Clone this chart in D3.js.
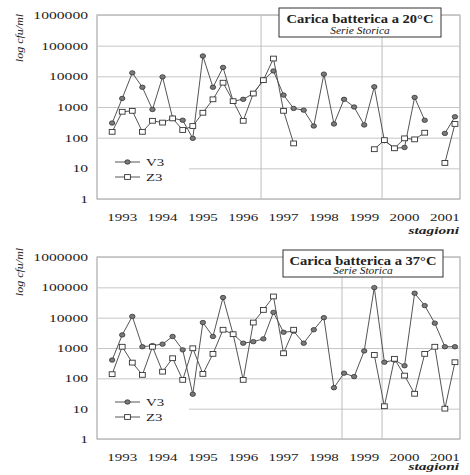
<!DOCTYPE html>
<html>
<head>
<meta charset="utf-8">
<script src="https://cdn.jsdelivr.net/npm/d3@7"></script>
<style>
  body { margin: 0; background: #fff; }
  svg { display: block; }
</style>
</head>
<body>
<svg id="chart" width="470" height="475"></svg>
<script>
// Seasonal samples 1993–2001 (four seasons per year); slot 0 is an empty lead-in season.
const seasonCount = 36;
const years = ["1993", "1994", "1995", "1996", "1997", "1998", "1999", "2000", "2001"];
const yearSlots = [2, 6, 10, 14, 18, 22, 26, 30, 34];
const yTicks = [1, 10, 100, 1000, 10000, 100000, 1000000];
const seriesNames = ["V3", "Z3"];

// Bacterial count at 20°C (cfu/ml)
const v3At20 = [null, 300, 1900, 13000, 4400, 830, 9600, 430, 370, 95, 46000, 4400, 19500, 1550, 1780, 2750, 7500,
  15000, 2450, 900, 790, 240, 11800, 280, 1780, 1000, 260, 4550, 80, 45, 48, 2050, 370, null, 138, 480];
const z3At20 = [null, 155, 700, 750, 155, 355, 310, 425, 178, 240, 650, 1780, 6200, 1550, 355, 2750, 7500,
  38000, 750, 65, null, null, null, null, null, null, null, 42, 83, 45, 95, 88, 145, null, 15, 280];

// Bacterial count at 37°C (cfu/ml)
const v3At37 = [null, 400, 2700, 11000, 1100, 1200, 1340, 2400, 870, 30, 6900, 2400, 46000, 2850, 1440, 1620, 2000,
  15000, 3300, 3600, 1440, 4000, 10000, 49, 148, 114, 800, 98000, 340, 400, 260, 64000, 25000, 6600, 1100, 1100];
const z3At37 = [null, 137, 1100, 330, 130, 1100, 166, 460, 89, 980, 140, 640, 4000, 2850, 89, 6900, 18000,
  50000, 670, 4000, null, null, null, null, null, null, null, 590, 12, 440, 123, 31, 640, 1100, 10, 340];

const titles = ["Carica batterica a 20°C", "Carica batterica a 37°C"];
const subtitle = "Serie Storica";
const yLabel = "log cfu/ml";
const xLabel = "stagioni";

// Season-slot positions of the vertical guide lines in each panel
const guidesTop = [16.27, 28.27];
const guidesBottom = [24.3, 28.27];

const SERIF = "'Liberation Serif', 'DejaVu Serif', serif";
const left = 97, right = 460;

const panels = [
  { v3: v3At20, z3: z3At20, title: titles[0], top: 15, bottom: 199, guides: guidesTop,
    box: { x0: 279, x1: 441, y0: 8, y1: 37 }, yLabelY: 38, xLabelDy: 35 },
  { v3: v3At37, z3: z3At37, title: titles[1], top: 257, bottom: 439, guides: guidesBottom,
    box: { x0: 283, x1: 443, y0: 250, y1: 277 }, yLabelY: 272, xLabelDy: 31 }
];

const svg = d3.select("#chart");
const x = d3.scaleBand().domain(d3.range(seasonCount)).range([left, right]);
const cx = i => x(i) + x.bandwidth() / 2;
const xSlot = d3.scaleLinear().domain([0, seasonCount]).range([left, right]);

// Text with horizontal stretch along its own direction
function stretchedText(g, str, px, py, opt) {
  return g.append("text")
    .attr("transform", `translate(${px},${py}) rotate(${opt.rotate || 0}) scale(${opt.sx || 1},1)`)
    .attr("text-anchor", opt.anchor || "middle")
    .attr("font-family", SERIF)
    .attr("font-size", opt.size || 11)
    .attr("font-weight", opt.weight || "normal")
    .attr("font-style", opt.style || "normal")
    .attr("fill", opt.fill || "#222")
    .text(str);
}

function drawV3Marker(sel) {
  sel.append("ellipse").attr("rx", 2.7).attr("ry", 2.2)
    .attr("fill", "#7a7a7a").attr("stroke", "#333").attr("stroke-width", 0.8);
}
function drawZ3Marker(sel) {
  sel.append("rect").attr("x", -2.9).attr("y", -2.4).attr("width", 5.8).attr("height", 4.8)
    .attr("fill", "#fff").attr("stroke", "#333").attr("stroke-width", 0.9);
}

panels.forEach(p => {
  const g = svg.append("g");
  const y = d3.scaleLog().domain([1, 1e6]).range([p.bottom, p.top]);

  // plot area
  g.append("rect")
    .attr("x", left).attr("y", p.top)
    .attr("width", right - left).attr("height", p.bottom - p.top)
    .attr("fill", "#fff").attr("stroke", "#9a9a9a").attr("stroke-width", 1);

  // horizontal gridlines at each decade
  const grid = g.append("g").attr("transform", `translate(${left},0)`)
    .call(d3.axisLeft(y).tickValues(yTicks).tickSize(-(right - left)).tickFormat(""));
  grid.select(".domain").remove();
  grid.selectAll("line").attr("stroke", "#c6c6c6").attr("stroke-width", 1);

  // vertical guide lines
  g.selectAll("line.guide").data(p.guides).join("line")
    .attr("class", "guide")
    .attr("x1", d => xSlot(d)).attr("x2", d => xSlot(d))
    .attr("y1", p.top).attr("y2", p.bottom)
    .attr("stroke", "#bdbdbd").attr("stroke-width", 1);

  // y tick labels
  const ya = g.append("g").attr("transform", `translate(${left},0)`)
    .call(d3.axisLeft(y).tickValues(yTicks).tickSize(0).tickPadding(0).tickFormat(d3.format("d")));
  ya.select(".domain").remove();
  ya.selectAll("text")
    .attr("font-family", SERIF).attr("font-size", 11).attr("fill", "#222")
    .attr("x", -9 / 1.42).attr("transform", "scale(1.42,1)");

  // year labels
  years.forEach((yr, k) => {
    stretchedText(g, yr, cx(yearSlots[k]), p.bottom + 22, { sx: 1.36, size: 11 });
  });

  // x axis title
  stretchedText(g, xLabel, right - 1, p.bottom + p.xLabelDy,
    { anchor: "end", sx: 1.4, size: 11, weight: "bold", style: "italic" });

  // y axis title
  stretchedText(g, yLabel, 23, p.yLabelY,
    { rotate: -90, sx: 1.2, size: 10, style: "italic" });

  // legend (white backing over the gridline)
  g.append("rect").attr("x", left + 1).attr("y", p.bottom - 47)
    .attr("width", 91).attr("height", 36).attr("fill", "#fff");
  const legendRows = [
    { name: seriesNames[0], dy: -37, marker: drawV3Marker },
    { name: seriesNames[1], dy: -22, marker: drawZ3Marker }
  ];
  legendRows.forEach(r => {
    const ly = p.bottom + r.dy;
    g.append("line").attr("x1", 115).attr("x2", 140).attr("y1", ly).attr("y2", ly)
      .attr("stroke", "#555").attr("stroke-width", 1);
    g.append("g").attr("transform", `translate(127.5,${ly})`).call(r.marker);
    stretchedText(g, r.name, 146, ly + 4, { anchor: "start", sx: 1.35, size: 11 });
  });

  // series
  const line = d3.line()
    .defined(d => d.v != null)
    .x(d => cx(d.i))
    .y(d => y(d.v));

  const drawSeries = (values, marker) => {
    const pts = values.map((v, i) => ({ i, v }));
    g.append("path").datum(pts)
      .attr("d", line)
      .attr("fill", "none").attr("stroke", "#555").attr("stroke-width", 1);
    g.append("g").selectAll("g").data(pts.filter(d => d.v != null)).join("g")
      .attr("transform", d => `translate(${cx(d.i)},${y(d.v)})`)
      .call(marker);
  };
  drawSeries(p.v3, drawV3Marker);
  drawSeries(p.z3, drawZ3Marker);

  // title box
  const b = p.box;
  g.append("rect").attr("x", b.x0).attr("y", b.y0)
    .attr("width", b.x1 - b.x0).attr("height", b.y1 - b.y0)
    .attr("fill", "#fff").attr("stroke", "#333").attr("stroke-width", 1);
  const mid = (b.x0 + b.x1) / 2;
  stretchedText(g, p.title, mid, b.y0 + 15, { sx: 1.12, size: 13, weight: "bold" });
  stretchedText(g, subtitle, mid, b.y1 - 3, { sx: 1.15, size: 10, style: "italic" });
});
</script>
</body>
</html>
